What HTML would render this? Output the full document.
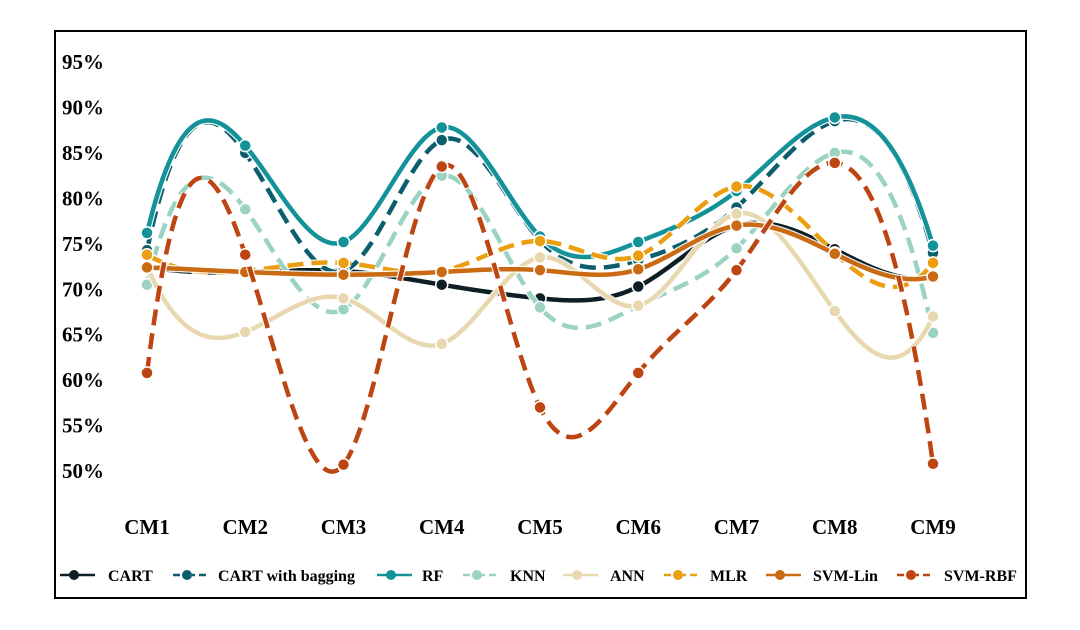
<!DOCTYPE html>
<html><head><meta charset="utf-8"><style>
html,body{margin:0;padding:0;background:#fff;}
svg{display:block;font-family:"Liberation Serif",serif;}
</style></head><body>
<svg id="chart" width="1080" height="630">
<rect x="55" y="31" width="971" height="567" fill="#fff" stroke="#000" stroke-width="2"/>
<g id="yaxis"></g>
<g id="xaxis"></g>
<g id="series"></g>
<g id="legend"></g>
</svg>
<script>
const categories=["CM1","CM2","CM3","CM4","CM5","CM6","CM7","CM8","CM9"];
const yTicks=[50,55,60,65,70,75,80,85,90,95];
const seriesNames=["CART","CART with bagging","RF","KNN","ANN","MLR","SVM-Lin","SVM-RBF"];
const cart=[72.5,71.9,72.0,70.5,69.0,70.3,77.0,74.4,71.3];
const cartBag=[74.3,85.0,72.0,86.4,75.4,73.2,79.0,88.5,74.0];
const rf=[76.2,85.8,75.2,87.8,75.8,75.2,80.8,88.9,74.8];
const knn=[70.5,78.8,67.8,82.5,68.0,68.2,74.5,85.0,65.2];
const ann=[72.5,65.3,69.0,64.0,73.5,68.2,78.3,67.6,67.0];
const mlr=[73.8,72.0,72.9,72.0,75.3,73.7,81.3,74.0,72.9];
const svmLin=[72.4,71.9,71.6,71.9,72.1,72.2,77.0,73.9,71.4];
const svmRbf=[60.8,73.8,50.7,83.5,57.0,60.8,72.1,83.9,50.8];

const NS="http://www.w3.org/2000/svg";
const x=i=>147+i*98.25;
const y=v=>62+(95-v)*9.09;
function mk(tag,attrs,parent){const e=document.createElementNS(NS,tag);for(const k in attrs)e.setAttribute(k,attrs[k]);parent.appendChild(e);return e;}

const ya=document.getElementById('yaxis');
yTicks.forEach(t=>{const e=mk('text',{x:62,y:y(t)+7,'font-size':21,'font-weight':'bold',fill:'#000'},ya);e.textContent=t+'%';

});
const xa=document.getElementById('xaxis');
categories.forEach((c,i)=>{const e=mk('text',{x:x(i),y:534,'font-size':21,'font-weight':'bold','text-anchor':'middle',fill:'#000'},xa);e.textContent=c;

});

const styles=[
 {d:cart,c:"#0d1f24",dash:null},
 {d:cartBag,c:"#0c5e6e",dash:"16 8"},
 {d:rf,c:"#14929a",dash:null},
 {d:knn,c:"#9ad3c2",dash:"16 8"},
 {d:ann,c:"#e8d8b0",dash:null},
 {d:mlr,c:"#eb9e10",dash:"16 8"},
 {d:svmLin,c:"#ca6a12",dash:null},
 {d:svmRbf,c:"#bc4512",dash:"16 8"}];

// not-a-knot cubic spline (uniform spacing)
function solve(A,b){
 const n=b.length;
 for(let c=0;c<n;c++){
  let p=c;for(let r=c+1;r<n;r++)if(Math.abs(A[r][c])>Math.abs(A[p][c]))p=r;
  [A[c],A[p]]=[A[p],A[c]];[b[c],b[p]]=[b[p],b[c]];
  for(let r=c+1;r<n;r++){const f=A[r][c]/A[c][c];for(let k=c;k<n;k++)A[r][k]-=f*A[c][k];b[r]-=f*b[c];}
 }
 const xs=new Array(n);
 for(let r=n-1;r>=0;r--){let s=b[r];for(let k=r+1;k<n;k++)s-=A[r][k]*xs[k];xs[r]=s/A[r][r];}
 return xs;
}
function path(d){
 const n=d.length;
 const A=[],b=[];
 for(let i=0;i<n;i++){A.push(new Array(n).fill(0));b.push(0);}
 A[0][0]=1;A[0][1]=-2;A[0][2]=1;
 for(let i=1;i<n-1;i++){A[i][i-1]=1;A[i][i]=4;A[i][i+1]=1;b[i]=6*(d[i+1]-2*d[i]+d[i-1]);}
 A[n-1][n-3]=1;A[n-1][n-2]=-2;A[n-1][n-1]=1;
 const M=solve(A,b);
 let s='';
 const steps=40;
 for(let i=0;i<n-1;i++){
  for(let k=(i===0?0:1);k<=steps;k++){
   const t=k/steps;
   const v=(1-t)*d[i]+t*d[i+1]+((Math.pow(1-t,3)-(1-t))*M[i]+(Math.pow(t,3)-t)*M[i+1])/6;
   s+=(s?' L':'M')+x(i+t).toFixed(2)+','+y(v).toFixed(2);
  }
 }
 return s;
}
const sg=document.getElementById('series');
styles.forEach((s,k)=>{
 const g=mk('g',{},sg);
 
 
 const a={d:path(s.d),fill:'none',stroke:'#fff','stroke-width':7,opacity:0.9};
 if(s.dash)a['stroke-dasharray']=s.dash;
 const sh=mk('path',a,g);
 
 
 const b={d:path(s.d),fill:'none',stroke:s.c,'stroke-width':4.5};
 if(s.dash)b['stroke-dasharray']=s.dash;
 const ln=mk('path',b,g);
 
 
 s.d.forEach((v,i)=>{const c=mk('circle',{cx:x(i),cy:y(v),r:6,fill:s.c,stroke:'#fff','stroke-width':1.5},g);
 
 });
});

const lg=document.getElementById('legend');
const lx=[60,173,377,463,563,664,766,897];
const tx=[108,218,422,510,610,710,813,944];
styles.forEach((s,k)=>{
 const g=mk('g',{},lg);
 
 
 const a={x1:lx[k],y1:575,x2:lx[k]+35,y2:575,stroke:s.c,'stroke-width':2.5};
 if(s.dash)a['stroke-dasharray']='7 5 3 4 3 4';
 mk('line',a,g);
 mk('circle',{cx:lx[k]+14,cy:575,r:5,fill:s.c},g);
 const t=mk('text',{x:tx[k],y:581,'font-size':16,'font-weight':'bold',fill:'#000'},g);
 t.textContent=seriesNames[k];
});
</script>
</body></html>
